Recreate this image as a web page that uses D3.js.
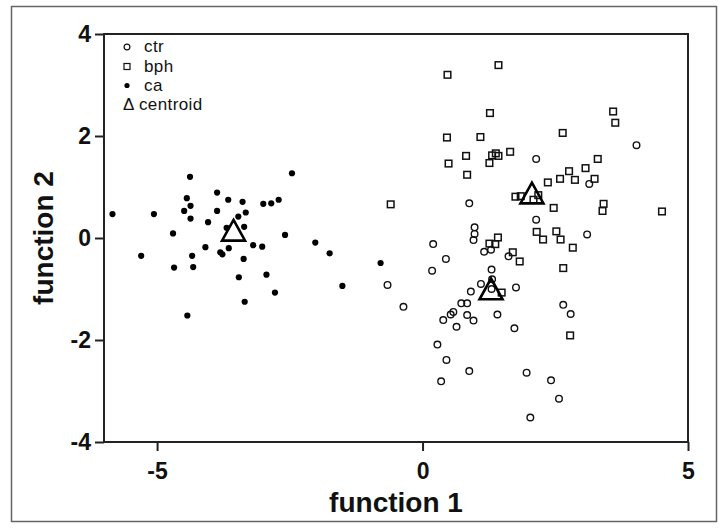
<!DOCTYPE html>
<html>
<head>
<meta charset="utf-8">
<script src="https://cdn.jsdelivr.net/npm/d3@7"></script>
<style>
  body { margin: 0; background: #fff; }
  text { font-family: "Liberation Sans", Arial, sans-serif; }
</style>
</head>
<body>
<div id="chart"></div>
<script>
// ctr group (open circles)
var ctrX = [2.14, 4.03, 3.14, 0.88, 2.14, 3.10, 0.98, 0.98, 0.96, 0.20, 0.44, 0.18, -0.66, -0.36,
  1.16, 1.29, 1.62, 1.30, 1.31, 1.30, 1.10, 0.91, 1.76, 0.73, 0.84, 0.53, 0.58, 0.39, 0.84, 0.96,
  0.64, 1.41, 1.73, 2.65, 2.79, 0.28, 0.45, 0.35, 0.88, 1.96, 2.42, 2.57, 2.03];
var ctrY = [1.55, 1.82, 1.06, 0.68, 0.36, 0.07, 0.21, 0.08, -0.04, -0.12, -0.41, -0.64, -0.92, -1.35,
  -0.27, -0.23, -0.36, -0.62, -0.81, -1.00, -0.90, -1.05, -0.97, -1.28, -1.28, -1.50, -1.45, -1.61, -1.51, -1.62,
  -1.74, -1.50, -1.77, -1.31, -1.49, -2.09, -2.39, -2.81, -2.61, -2.64, -2.79, -3.15, -3.52];

// bph group (open squares)
var bphX = [0.47, 1.43, 1.27, 3.59, 3.63, 0.46, 1.09, 2.64, 1.65, 0.82, 1.31, 1.38, 1.43, 0.49, 1.26,
  0.84, 3.30, 3.07, 2.76, 2.59, 2.87, 3.24, 2.36, -0.60, 1.75, 1.85, 2.18, 2.09, 2.47, 3.41, 3.39,
  4.51, 2.15, 2.52, 2.27, 2.60, 1.42, 1.26, 1.37, 1.70, 1.83, 2.65, 1.49, 2.78, 2.83];
var bphY = [3.20, 3.39, 2.45, 2.48, 2.26, 1.97, 1.98, 2.06, 1.69, 1.61, 1.62, 1.66, 1.61, 1.46, 1.47,
  1.24, 1.55, 1.37, 1.31, 1.16, 1.14, 1.16, 1.09, 0.66, 0.81, 0.82, 0.84, 0.75, 0.59, 0.67, 0.53,
  0.52, 0.12, 0.13, -0.03, -0.03, 0.01, -0.11, -0.12, -0.28, -0.46, -0.59, -1.07, -1.91, -0.19];

// ca group (filled dots)
var caX = [-5.84, -5.06, -4.38, -2.46, -4.44, -4.37, -4.49, -4.37, -3.87, -3.66, -3.39, -3.87, -3.33,
  -3.47, -4.04, -3.00, -2.85, -2.71, -4.70, -2.59, -2.02, -1.75, -1.51, -5.30, -4.34, -4.68, -4.32,
  -4.09, -3.81, -3.77, -3.65, -3.19, -3.02, -3.37, -3.46, -2.94, -2.78, -3.35, -4.43, -3.69, -3.36, -0.79];
var caY = [0.47, 0.47, 1.20, 1.27, 0.78, 0.63, 0.53, 0.38, 0.89, 0.75, 0.71, 0.53, 0.50,
  0.42, 0.31, 0.67, 0.68, 0.75, 0.09, 0.06, -0.09, -0.30, -0.94, -0.35, -0.35, -0.58, -0.57,
  -0.18, -0.28, -0.32, -0.20, -0.14, -0.17, -0.41, -0.77, -0.72, -1.07, -1.25, -1.52, 0.20, 0.22, -0.49];

// group centroids
var centroidX = [-3.56, 1.29, 2.06];
var centroidY = [0.15, -1.00, 0.88];

var xTicks = [-5, 0, 5];
var yTicks = [-4, -2, 0, 2, 4];
var legendLabels = ["ctr", "bph", "ca", "\u0394 centroid"];

var width = 723, height = 528;
var margin = {left: 104, top: 34, right: 35, bottom: 86};
var w = width - margin.left - margin.right;
var h = height - margin.top - margin.bottom;

var svg = d3.select("#chart").append("svg")
  .attr("width", width)
  .attr("height", height);

// outer frame
svg.append("rect")
  .attr("x", 11.5).attr("y", 6.5)
  .attr("width", 705).attr("height", 515)
  .attr("fill", "none")
  .attr("stroke", "#666")
  .attr("stroke-width", 1.5);

var g = svg.append("g")
  .attr("transform", "translate(" + margin.left + "," + margin.top + ")");

var x = d3.scaleLinear().domain([-6, 5]).range([0, w]);
var y = d3.scaleLinear().domain([-4, 4]).range([h, 0]);

var xAxis = g.append("g")
  .attr("transform", "translate(0," + h + ")")
  .call(d3.axisBottom(x).tickValues(xTicks).tickSize(9).tickPadding(12)
    .tickFormat(function(d) { return String(d); }));

var yAxis = g.append("g")
  .call(d3.axisLeft(y).tickValues(yTicks).tickSize(9).tickPadding(4)
    .tickFormat(function(d) { return String(d); }));

[xAxis, yAxis].forEach(function(a) {
  a.select(".domain").remove();
  a.selectAll(".tick line").attr("stroke", "#222").attr("stroke-width", 2);
  a.selectAll(".tick text")
    .attr("font-size", 23)
    .attr("font-weight", "bold")
    .attr("fill", "#111")
    .style("font-family", "'Liberation Sans', Arial, sans-serif");
});

// plot box
g.append("rect")
  .attr("x", 0).attr("y", 0)
  .attr("width", w).attr("height", h)
  .attr("fill", "none")
  .attr("stroke", "#222")
  .attr("stroke-width", 2);

// points
var ctr = ctrX.map(function(v, i) { return {x: v, y: ctrY[i]}; });
var bph = bphX.map(function(v, i) { return {x: v, y: bphY[i]}; });
var ca = caX.map(function(v, i) { return {x: v, y: caY[i]}; });

g.selectAll(".ca")
  .data(ca)
  .enter().append("circle")
  .attr("class", "ca")
  .attr("cx", function(d) { return x(d.x); })
  .attr("cy", function(d) { return y(d.y); })
  .attr("r", 3.1)
  .attr("fill", "#000");

g.selectAll(".bph")
  .data(bph)
  .enter().append("rect")
  .attr("class", "bph")
  .attr("x", function(d) { return x(d.x) - 3.3; })
  .attr("y", function(d) { return y(d.y) - 3.3; })
  .attr("width", 6.6)
  .attr("height", 6.6)
  .attr("fill", "none")
  .attr("stroke", "#111")
  .attr("stroke-width", 1.5);

g.selectAll(".ctr")
  .data(ctr)
  .enter().append("circle")
  .attr("class", "ctr")
  .attr("cx", function(d) { return x(d.x); })
  .attr("cy", function(d) { return y(d.y); })
  .attr("r", 3.3)
  .attr("fill", "none")
  .attr("stroke", "#111")
  .attr("stroke-width", 1.4);

var cents = centroidX.map(function(v, i) { return {x: v, y: centroidY[i]}; });
g.selectAll(".centroid")
  .data(cents)
  .enter().append("path")
  .attr("class", "centroid")
  .attr("d", function(d) {
    var cx = x(d.x), cy = y(d.y);
    return "M" + cx + "," + (cy - 10.5) + "L" + (cx + 11.5) + "," + (cy + 10.3) +
      "L" + (cx - 11.5) + "," + (cy + 10.3) + "Z";
  })
  .attr("fill", "none")
  .attr("stroke", "#000")
  .attr("stroke-width", 2.6)
  .attr("stroke-linejoin", "miter");

// legend
var lg = svg.append("g");
var rowY = [47, 66.5, 85.5, 105];
lg.append("circle").attr("cx", 127).attr("cy", rowY[0]).attr("r", 2.9)
  .attr("fill", "none").attr("stroke", "#111").attr("stroke-width", 1.2);
lg.append("rect").attr("x", 124).attr("y", rowY[1] - 3).attr("width", 6).attr("height", 6)
  .attr("fill", "none").attr("stroke", "#111").attr("stroke-width", 1.2);
lg.append("circle").attr("cx", 127).attr("cy", rowY[2]).attr("r", 2.6).attr("fill", "#000");
legendLabels.forEach(function(t, i) {
  lg.append("text")
    .attr("x", i == 3 ? 123 : 144)
    .attr("y", rowY[i] + 5)
    .attr("font-size", 17)
    .attr("letter-spacing", 0.4)
    .attr("fill", "#111")
    .text(t);
});

// axis titles
svg.append("text")
  .attr("x", margin.left + w / 2)
  .attr("y", 512)
  .attr("text-anchor", "middle")
  .attr("font-size", 28)
  .attr("font-weight", "bold")
  .attr("fill", "#111")
  .text("function 1");

svg.append("text")
  .attr("transform", "translate(53," + (margin.top + h / 2) + ") rotate(-90)")
  .attr("text-anchor", "middle")
  .attr("font-size", 28)
  .attr("font-weight", "bold")
  .attr("fill", "#111")
  .text("function 2");
</script>
</body>
</html>
